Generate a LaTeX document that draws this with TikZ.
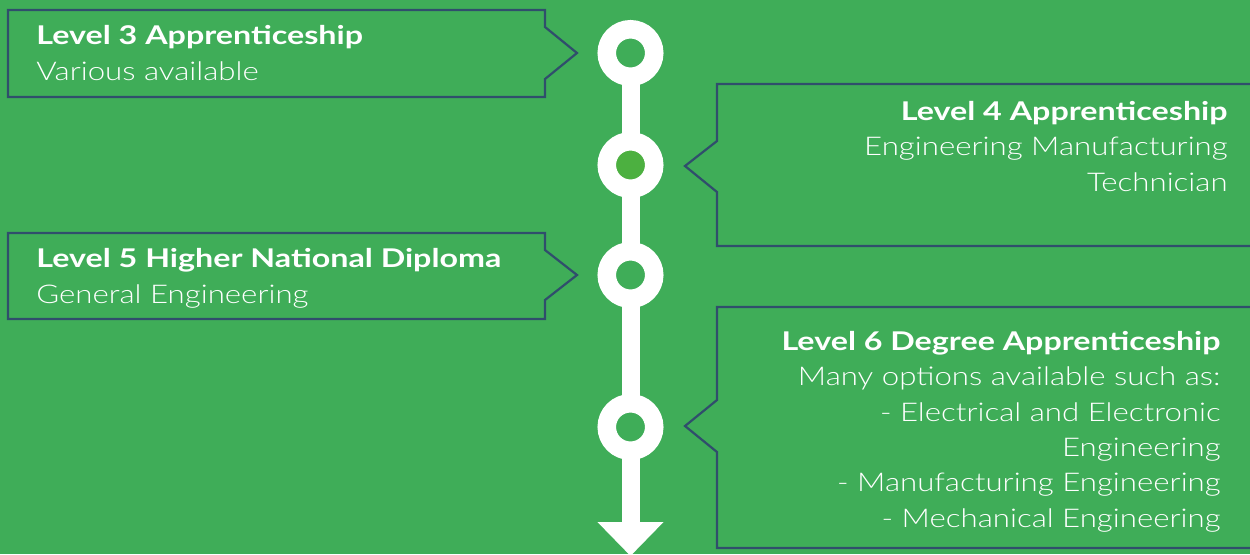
\documentclass[tikz,border=0pt]{standalone}
\usepackage{fontspec}
\setmainfont{Lato}[UprightFont=* Light, BoldFont=* Bold, FakeStretch=1.21, BoldFeatures={FakeStretch=1.25}]
\usetikzlibrary{arrows.meta}
\definecolor{bggreen}{RGB}{63,173,88}
\definecolor{ringgreen}{RGB}{76,176,64}
\definecolor{boxline}{RGB}{48,78,108}

\begin{document}
\begin{tikzpicture}[x=0.5pt, y=-0.5pt,
  box/.style={draw=boxline, line width=1.1pt},
  ring/.style={circle, draw=white, line width=9.25pt, fill=bggreen, minimum size=23.75pt, inner sep=0pt},
  info/.style={text=white, inner sep=0pt, font=\fontsize{12.9}{17.65}\selectfont}]
	\fill[bggreen] (0,0) rectangle (1250,554); % Hintergrund
	\useasboundingbox (0,0) rectangle (1250,554);
	
	% Kaesten mit Spitze
	\draw[box] (8,10) -- (545,10) -- (545,27) -- (577,53) -- (545,79) -- (545,97) -- (8,97) -- cycle;
	\draw[box] (1262,84) -- (717,84) -- (717,141) -- (685,166) -- (717,192) -- (717,246) -- (1262,246);
	\draw[box] (8,233) -- (545,233) -- (545,250) -- (577,275) -- (545,300) -- (545,319) -- (8,319) -- cycle;
	\draw[box] (1262,307) -- (717,307) -- (717,400) -- (685,426) -- (717,452) -- (717,548) -- (1262,548);
	
	% Zeitstrahl
	\coordinate (tip) at (630.5,556);
	\draw[white, line width=9pt] (630.5,53) -- (630.5,427);
	\draw[white, line width=9pt, -{Triangle[width=32pt, length=17pt]}] (630.5,427) -- (tip);
	
	\node[ring] (r1) at (630.5,53) {};
	\node[ring, fill=ringgreen] (r2) at (630.5,165) {};
	\node[ring] (r3) at (630.5,275) {};
	\node[ring] (r4) at (630.5,427) {};
	
	% Texte (Anker = Grundlinie der letzten Zeile)
	\node[info, anchor=base west, align=left] (t3) at (36,80)
		{\textbf{Level 3 Apprenticeship}\\Various available};
	\node[info, anchor=base east, align=right] (t4) at (1228,191)
		{\textbf{Level 4 Apprenticeship}\\Engineering Manufacturing\\Technician};
	\node[info, anchor=base west, align=left] (t5) at (36,303)
		{\textbf{Level 5 Higher National Diploma}\\General Engineering};
	\node[info, anchor=base east, align=right] (t6) at (1221,527)
		{\textbf{Level 6 Degree Apprenticeship}\\Many options available such as:\\- Electrical and Electronic\\Engineering\\- Manufacturing Engineering\\- Mechanical Engineering};
\end{tikzpicture}
\end{document}
